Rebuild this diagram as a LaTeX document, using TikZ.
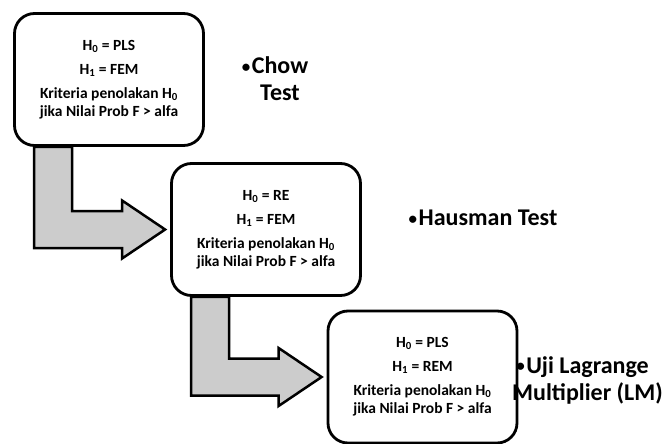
\documentclass[tikz,border=0pt]{standalone}
\usepackage{fontspec}
\setmainfont{Carlito}
\usetikzlibrary{calc,backgrounds}
\newcommand{\hbul}{\llap{{\fontsize{17}{17}\selectfont\raisebox{1.5pt}{•}}\kern1.5pt}}
\begin{document}
\begin{tikzpicture}[x=1pt,y=-1pt,
  box/.style={draw=black, line width=2.8pt, fill=white, rounded corners=20pt,
    minimum width=189pt, minimum height=132pt, align=center, inner sep=0pt,
    font=\fontsize{15.5}{18}\selectfont\bfseries},
  bentarrow/.style={draw=black, line width=2.5pt, fill=black!20, line join=miter},
  lbl/.style={align=center, inner sep=0pt, font=\fontsize{24}{27}\selectfont\bfseries}]
\useasboundingbox (0,0) rectangle (670,444);

\node[box] (b1) at (109,79.5) {H\textsubscript{0} = PLS\\[6pt] H\textsubscript{1} = FEM\\[6pt] Kriteria penolakan H\textsubscript{0}\\ jika Nilai Prob F > alfa};
\node[box] (b2) at (266,229.5) {H\textsubscript{0} = RE\\[6pt] H\textsubscript{1} = FEM\\[6pt] Kriteria penolakan H\textsubscript{0}\\ jika Nilai Prob F > alfa};
\node[box] (b3) at (422.5,377) {H\textsubscript{0} = PLS\\[6pt] H\textsubscript{1} = REM\\[6pt] Kriteria penolakan H\textsubscript{0}\\ jika Nilai Prob F > alfa};

\node[lbl] (l1) at (280,79) {\hbul Chow\\Test};
\node[lbl] (l2) at (488,218) {\hbul Hausman Test};
\node[lbl] (l3) at (587.5,380) {\hbul Uji Lagrange\\Multiplier (LM)};

\begin{scope}[on background layer]
\foreach \a/\b/\n in {b1/b2/1, b2/b3/2}{
  \coordinate (t\n) at ($(\b.west)+(-5,0)$);
  \coordinate (sl\n) at ($(\a.south west)+(21,0)$);
  \coordinate (sr\n) at ($(sl\n)+(38,0)$);
  \coordinate (sb\n) at ($(t\n)+(0,18.5)$);
  \coordinate (st\n) at ($(t\n)+(0,-18.5)$);
  \coordinate (hb\n) at ($(t\n)+(-43,29)$);
  \coordinate (ht\n) at ($(t\n)+(-43,-29)$);
  \draw[bentarrow] (sl\n) -- (sl\n |- sb\n) -- (hb\n |- sb\n) -- (hb\n) -- (t\n)
    -- (ht\n) -- (ht\n |- st\n) -- (sr\n |- st\n) -- (sr\n) -- cycle;
}
\end{scope}
\end{tikzpicture}
\end{document}
